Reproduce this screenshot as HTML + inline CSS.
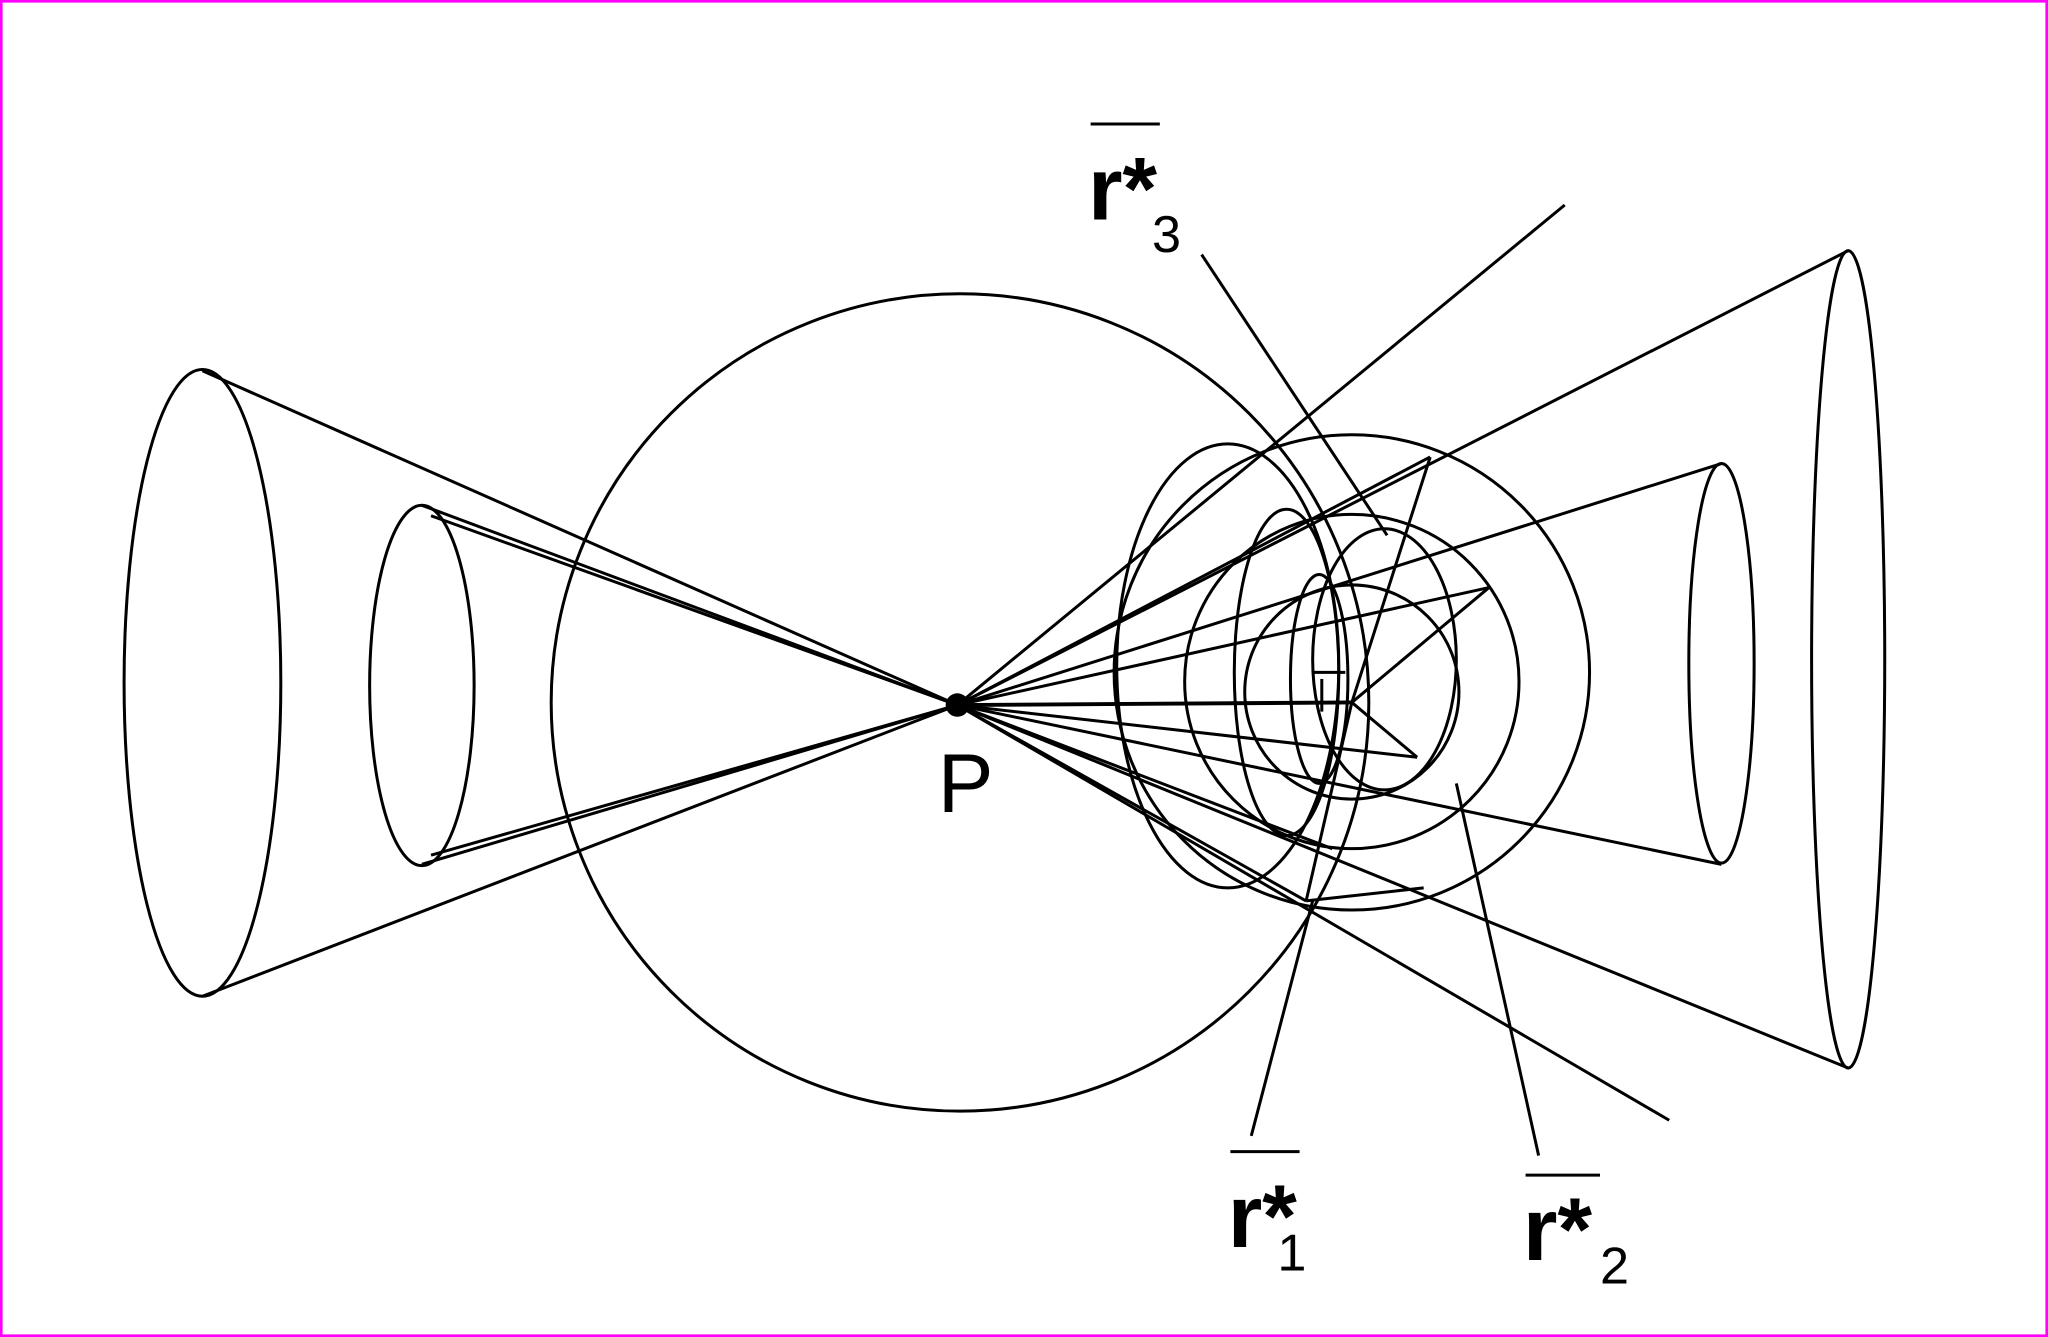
<!DOCTYPE html>
<html><head><style>
html,body{margin:0;padding:0;background:#fff;}
svg{display:block;}
text{font-family:"Liberation Sans",sans-serif;fill:#000;}
</style></head><body>
<svg width="2048" height="1337" viewBox="0 0 1568 1024" preserveAspectRatio="none" xmlns="http://www.w3.org/2000/svg">
<rect x="1" y="1" width="1566" height="1022" fill="#fff" stroke="#ff00ff" stroke-width="2"/>
<g fill="none" stroke="#000" stroke-width="2.3">
<ellipse cx="155" cy="523" rx="60" ry="240"/>
<ellipse cx="323" cy="525" rx="40" ry="138"/>
<circle cx="735" cy="538" r="313"/>
<ellipse cx="1415" cy="505" rx="28" ry="313"/>
<ellipse cx="1318" cy="508" rx="25" ry="153"/>
<line x1="155" y1="284" x2="733" y2="540"/>
<line x1="155" y1="763" x2="733" y2="540"/>
<line x1="323" y1="387" x2="733" y2="540"/>
<line x1="330" y1="395" x2="733" y2="540"/>
<line x1="323" y1="662" x2="733" y2="540"/>
<line x1="330" y1="655" x2="733" y2="540"/>
<line x1="1415" y1="192" x2="733" y2="540"/>
<line x1="1415" y1="818" x2="733" y2="540"/>
<line x1="1318" y1="355" x2="733" y2="540"/>
<line x1="1318" y1="662" x2="733" y2="540"/>
<line x1="733" y1="540" x2="1198" y2="157"/>
<line x1="733" y1="540" x2="1278" y2="858"/>
<line x1="733" y1="540" x2="1035" y2="538" stroke-width="3"/>
<line x1="733" y1="540" x2="1095" y2="350"/>
<line x1="733" y1="540" x2="1140" y2="450"/>
<line x1="733" y1="540" x2="1085" y2="580"/>
<line x1="733" y1="540" x2="1020" y2="650"/>
<line x1="733" y1="540" x2="1000" y2="690"/>
<circle cx="1035" cy="515" r="182"/>
<circle cx="1035" cy="522" r="128"/>
<circle cx="1035" cy="530" r="82"/>
<ellipse cx="940" cy="510" rx="85" ry="170"/>
<ellipse cx="985" cy="515" rx="40" ry="125"/>
<ellipse cx="1010" cy="520" rx="22" ry="80"/>
<ellipse cx="1060" cy="505" rx="55" ry="100"/>
<line x1="1035" y1="538" x2="1095" y2="350"/>
<line x1="1035" y1="538" x2="1140" y2="450"/>
<line x1="1035" y1="538" x2="1085" y2="580"/>
<line x1="1035" y1="538" x2="1000" y2="690"/>
<line x1="1000" y1="690" x2="1090" y2="680"/>
<line x1="1005" y1="515" x2="1030" y2="515"/>
<line x1="1012" y1="520" x2="1012" y2="545"/>
<line x1="920" y1="195" x2="1062" y2="410"/>
<line x1="958" y1="870" x2="1005" y2="690"/>
<line x1="1178" y1="885" x2="1115" y2="600"/>
<line x1="835" y1="95" x2="888" y2="95"/>
<line x1="942" y1="882" x2="995" y2="882"/>
<line x1="1168" y1="900" x2="1225" y2="900"/>
</g>
<circle cx="733" cy="540" r="9" fill="#000"/>
<text x="718" y="622" font-size="64">P</text>
<text x="833" y="168" font-size="68" font-weight="bold">r*</text>
<text x="882" y="193" font-size="40">3</text>
<text x="940" y="955" font-size="68" font-weight="bold">r*</text>
<text x="978" y="973" font-size="40">1</text>
<text x="1166" y="965" font-size="68" font-weight="bold">r*</text>
<text x="1225" y="983" font-size="40">2</text>
</svg>
</body></html>
